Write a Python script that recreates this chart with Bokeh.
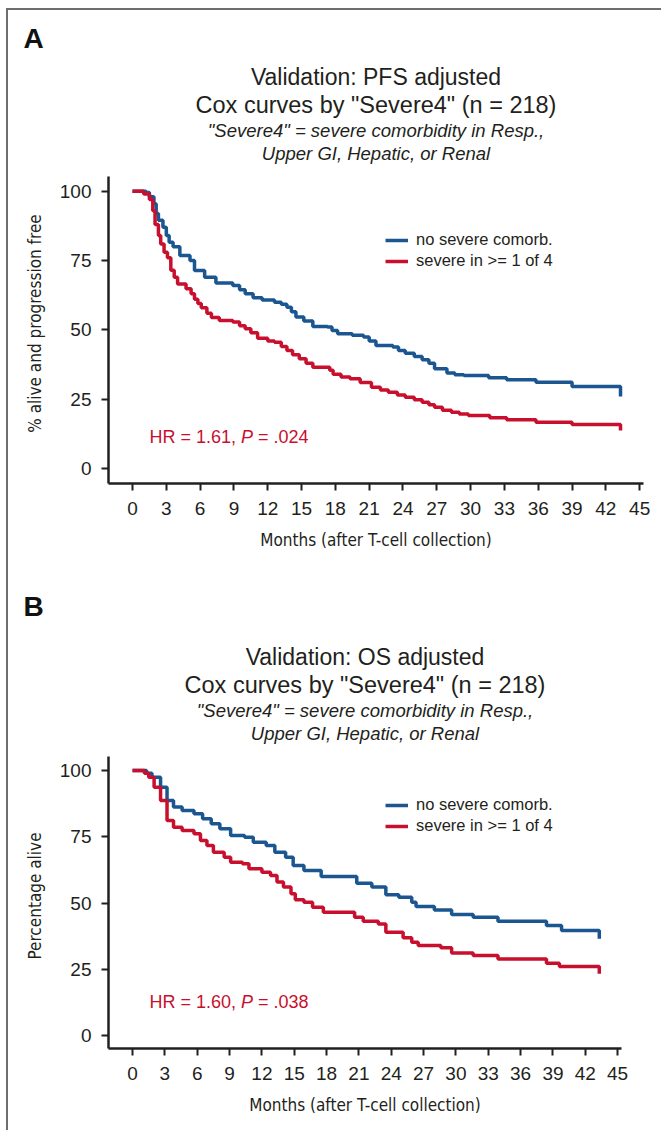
from bokeh.plotting import figure
from bokeh.models import Range1d, FixedTicker, Label, Legend, LegendItem, Title
from bokeh.layouts import column
from bokeh.embed import file_html
from bokeh.resources import INLINE

# ---------------- data ----------------
x_ticks = [0, 3, 6, 9, 12, 15, 18, 21, 24, 27, 30, 33, 36, 39, 42, 45]
y_ticks = [0, 25, 50, 75, 100]
series_names = ["no severe comorb.", "severe in >= 1 of 4"]

# Panel A: PFS
pfs_no_months = [0, 1.2, 1.5, 1.9, 2.1, 2.3, 2.7, 3.0, 3.25, 3.6,
                 4.2, 5.1, 5.5, 6.4, 7.4, 8.9, 9.5, 10.0, 10.7, 11.5,
                 12.6, 13.2, 13.7, 14.1, 14.5, 15.2, 16.0, 17.3, 17.7, 18.2,
                 19.5, 20.5, 21.0, 21.6, 23.1, 23.6, 24.2, 25.0, 25.7, 26.3,
                 26.8, 27.9, 28.6, 29.4, 31.6, 33.2, 35.8, 39.0, 43.3]
pfs_no_surv = [100, 99.5, 98, 95.5, 92, 89.5, 87, 84, 81.6, 80,
               76.8, 75, 71.4, 69, 66.9, 66, 64.5, 63, 61.6, 60.8,
               60, 59.2, 58.2, 56.5, 54.6, 53.2, 51.2, 51, 49.8, 48.6,
               48.1, 47.4, 46, 44.4, 43.8, 42.6, 41.6, 40.4, 39.2, 38,
               36, 34.4, 33.8, 33.5, 32.7, 32, 31.1, 29.6, 26]
pfs_sev_months = [0, 1.0, 1.5, 1.8, 2.0, 2.3, 2.5, 2.8, 3.1, 3.4,
                  3.7, 4.0, 4.75, 5.2, 5.5, 5.8, 6.1, 6.6, 7.0, 7.7,
                  8.9, 9.5, 10.0, 10.5, 11.1, 12.0, 12.6, 13.2, 13.7, 14.2,
                  14.8, 15.4, 16.0, 17.5, 17.8, 18.5, 19.3, 20.2, 21.2, 22.0,
                  22.7, 23.5, 24.2, 25.0, 25.7, 26.3, 26.8, 27.5, 28.3, 29.0,
                  29.8, 31.7, 33.2, 35.8, 39.0, 43.3]
pfs_sev_surv = [100, 99, 97, 93, 88, 84, 81, 78, 76, 71.5,
                69, 66.5, 64.8, 63, 61, 59.5, 58, 56, 54.5, 53.4,
                52.8, 51.5, 50.4, 49, 47, 46, 45.5, 44, 42.6, 41,
                39.6, 38, 36.5, 35.4, 34, 33, 32.4, 31, 29.3, 28.3,
                27.5, 26.5, 25.7, 24.8, 23.9, 23, 22.1, 21, 20.3, 19.7,
                19.1, 18.3, 17.6, 16.7, 15.9, 13.7]

# Panel B: OS
os_no_months = [0, 1.3, 1.8, 2.6, 3.2, 3.8, 4.6, 5.7, 6.5, 7.3,
                8.1, 9.1, 10.4, 11.2, 12.4, 13.2, 14.2, 14.9, 15.9, 17.5,
                20.8, 22.2, 23.5, 24.7, 25.9, 26.3, 28.0, 29.6, 31.6, 33.9,
                38.4, 39.8, 43.3]
os_no_surv = [100, 99, 97.5, 93.7, 88.7, 86.2, 84.9, 83.7, 81.8, 79.9,
              78, 75.5, 74.8, 72.9, 71.7, 69.2, 67.3, 64.2, 62.3, 60,
              57.5, 56, 53.1, 52.2, 50.3, 48.7, 47.4, 45.7, 44.6, 43.1,
              41.5, 39.6, 36.5]
os_sev_months = [0, 1.1, 1.5, 2.0, 2.6, 3.2, 3.8, 4.6, 5.7, 6.3,
                 6.9, 7.5, 8.5, 9.1, 10.2, 10.8, 12.0, 12.8, 13.4, 14.0,
                 14.7, 15.1, 15.9, 16.7, 17.7, 20.6, 21.4, 22.8, 23.5, 25.1,
                 25.9, 26.5, 28.6, 29.6, 31.6, 33.9, 38.4, 39.6, 43.3]
os_sev_surv = [100, 99, 97.5, 93.7, 88.7, 81.1, 78.6, 77.4, 76.1, 73.6,
               71.7, 69.2, 67.3, 65.4, 64.8, 62.9, 61.6, 60.4, 57.9, 56,
               53.5, 51.2, 50.3, 48.4, 46.5, 44.6, 43.1, 42.1, 39, 36.9,
               35.2, 34, 33.1, 31.1, 30.2, 28.9, 27.3, 26, 23.3]

# ---------------- style ----------------
BLUE = "#1b5690"
RED = "#c8102e"
INK = "#231f20"
FONT = "Liberation Sans"
NARROW = "DejaVu Sans Condensed, Liberation Sans Narrow, Liberation Sans"
FIG_W = 653
Y_AXIS_TOP = 105.3


def make_panel(letter, letter_standoff, title1, ylabel, hr_left, hr_right,
               no_x, no_y, sev_x, sev_y,
               height, border_top, border_bottom, border_right,
               xr, yr):
    p = figure(width=FIG_W, height=height,
               x_range=Range1d(*xr), y_range=Range1d(*yr),
               min_border_left=100, min_border_right=border_right,
               min_border_top=border_top, min_border_bottom=border_bottom,
               output_backend="svg", toolbar_location=None)
    p.frame_align = False
    p.grid.visible = False
    p.outline_line_color = None
    p.background_fill_color = "white"
    p.border_fill_color = "white"

    for ax in (p.xaxis[0], p.yaxis[0]):
        ax.axis_line_color = INK
        ax.axis_line_width = 2.5
        ax.major_tick_line_color = INK
        ax.major_tick_line_width = 2
        ax.major_tick_out = 7
        ax.major_tick_in = 0
        ax.minor_tick_line_color = None
        ax.major_label_text_font = FONT
        ax.major_label_text_font_size = "19px"
        ax.major_label_text_color = INK
        ax.axis_label_text_font = NARROW
        ax.axis_label_text_font_style = "normal"
        ax.axis_label_text_color = INK
        ax.axis_label_text_font_size = "17px"

    p.xaxis.ticker = FixedTicker(ticks=x_ticks)
    p.yaxis.ticker = FixedTicker(ticks=y_ticks)
    p.yaxis.bounds = (yr[0], Y_AXIS_TOP)
    p.xaxis.axis_label = "Months (after T-cell collection)"
    p.xaxis.major_label_standoff = 11
    p.xaxis.axis_label_standoff = 12
    p.yaxis.axis_label = ylabel
    p.yaxis.major_label_standoff = 10
    p.yaxis.axis_label_standoff = 12

    r_no = p.step(no_x, no_y, mode="after", line_color=BLUE, line_width=3.5)
    r_sev = p.step(sev_x, sev_y, mode="after", line_color=RED, line_width=3.5)

    legend = Legend(items=[LegendItem(label=series_names[0], renderers=[r_no]),
                           LegendItem(label=series_names[1], renderers=[r_sev])],
                    location=(277, 212.5), orientation="vertical",
                    glyph_width=23, glyph_height=20, label_height=20,
                    label_standoff=8, spacing=1, padding=0, margin=0,
                    border_line_color=None, background_fill_alpha=0,
                    label_text_font=FONT, label_text_font_size="16.5px",
                    label_text_color=INK)
    p.add_layout(legend, "center")

    # titles, first added = closest to the frame
    def title(text, size, style, align="center", offset=0, standoff=0, color=INK):
        p.add_layout(Title(text=text, align=align, offset=offset,
                           text_font=FONT, text_font_size=size,
                           text_font_style=style, text_color=color,
                           standoff=standoff), "above")

    title("Upper GI, Hepatic, or Renal", "18.5px", "italic")
    title('"Severe4" = severe comorbidity in Resp.,', "18.5px", "italic")
    title('Cox curves by "Severe4" (n = 218)', "23.5px", "normal")
    title(title1, "23px", "normal")
    title(letter, "28px", "bold", align="left", offset=-85,
          standoff=letter_standoff, color="#111111")

    # HR annotation with italic P
    hx, hy = 41, 47

    def lab(x, text, style):
        p.add_layout(Label(x=x, y=hy, x_units="screen", y_units="screen",
                           text=text, text_font=FONT, text_font_size="18px",
                           text_font_style=style, text_align="left",
                           text_baseline="middle", text_color=RED))
    lab(hx, hr_left, "normal")
    lab(hx + 91.5, "P", "italic")
    lab(hx + 108.5, hr_right, "normal")
    return p


pA = make_panel("A", 16, "Validation: PFS adjusted", "% alive and progression free",
                "HR = 1.61,", "= .024",
                pfs_no_months, pfs_no_surv, pfs_sev_months, pfs_sev_surv,
                height=550, border_top=153, border_bottom=77, border_right=18,
                xr=(-2.13, 45.34), yr=(-5.41, 110.0))
pB = make_panel("B", 40, "Validation: OS adjusted", "Percentage alive",
                "HR = 1.60,", "= .038",
                os_no_months, os_no_surv, os_sev_months, os_sev_surv,
                height=570, border_top=183, border_bottom=82, border_right=40,
                xr=(-2.23, 45.36), yr=(-4.9, 110.2))

layout = column(pA, pB, spacing=0,
                styles={"margin-top": "8px", "margin-left": "6px",
                        "border-top": "2px solid #6d6e71",
                        "border-left": "2px solid #6d6e71"})

open("out.html", "w").write(file_html(layout, INLINE))
